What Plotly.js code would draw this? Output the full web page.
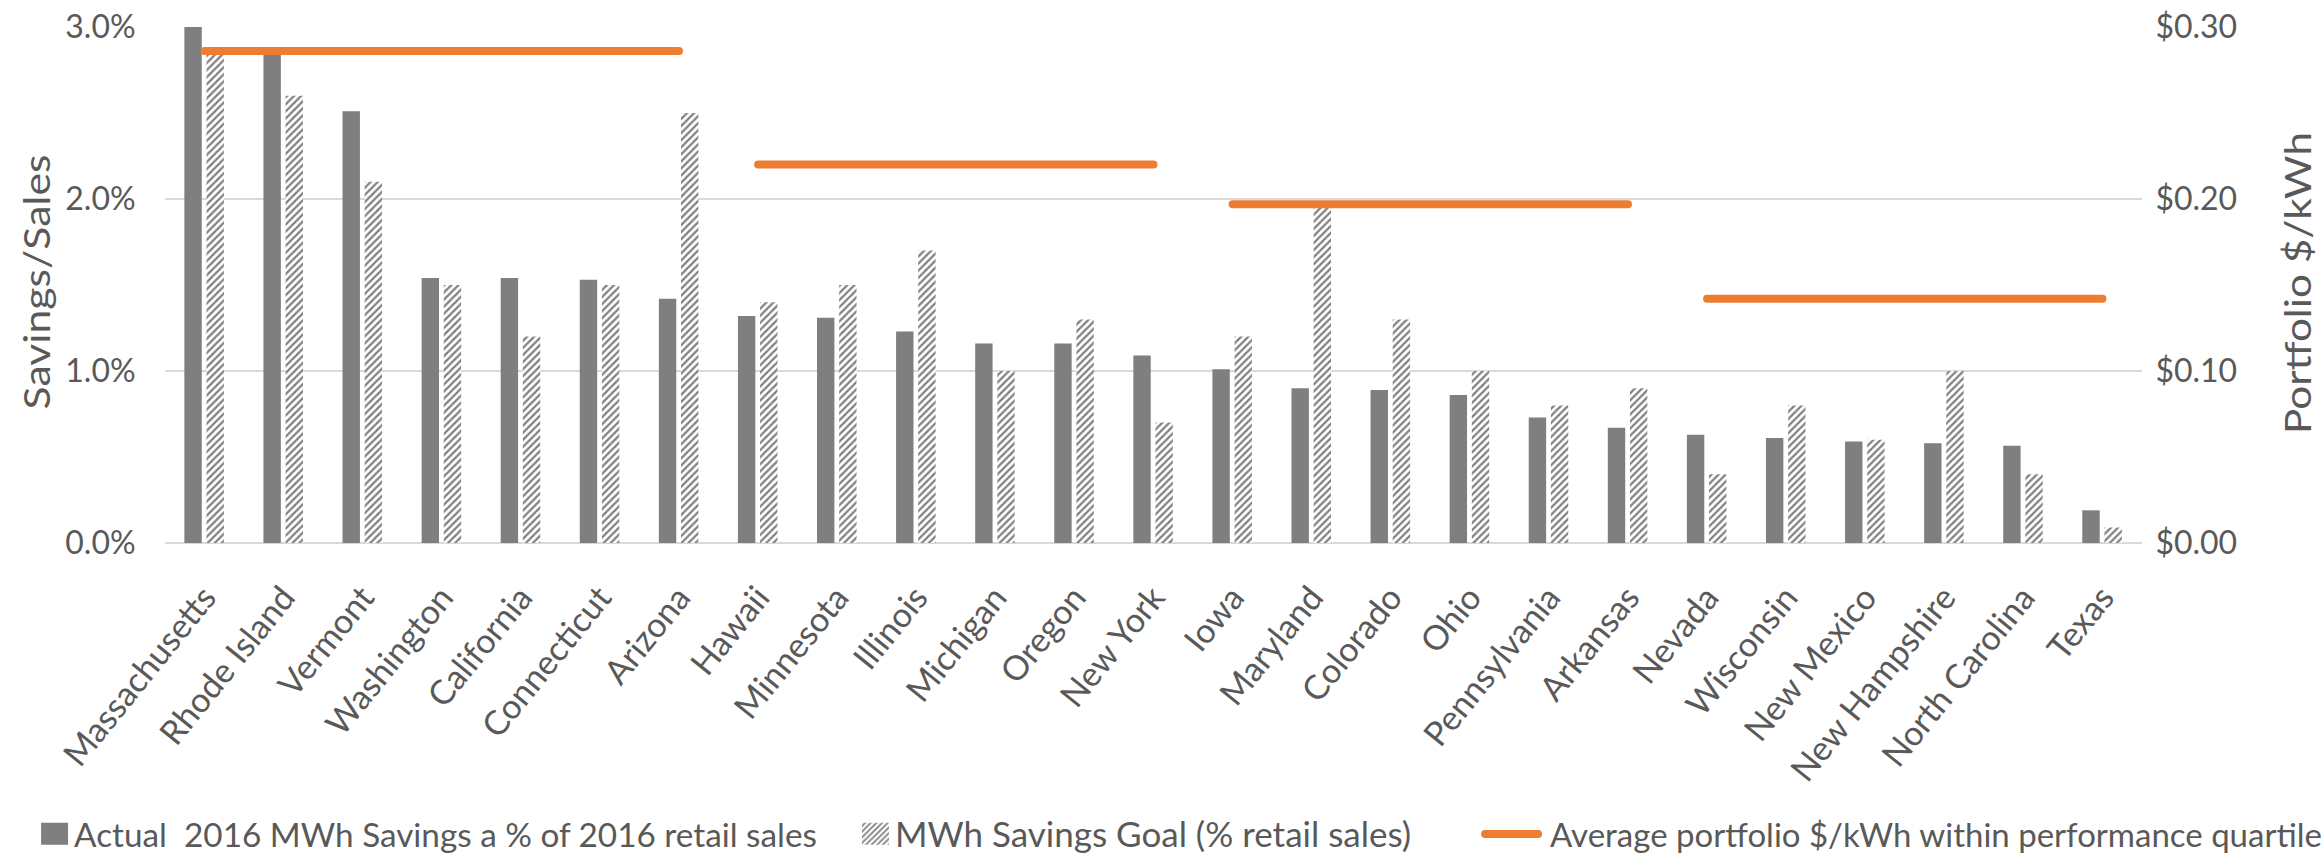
<!DOCTYPE html>
<html>
<head>
<meta charset="utf-8">
<script src="https://cdn.plot.ly/plotly-3.0.1.min.js"></script>
<style>
  html, body { margin: 0; padding: 0; background: #ffffff; }
  #chart { width: 2324px; height: 858px; }
</style>
</head>
<body>
<div id="chart"></div>
<script>
// ---- Data ----
const states = ["Massachusetts", "Rhode Island", "Vermont", "Washington", "California", "Connecticut", "Arizona",
  "Hawaii", "Minnesota", "Illinois", "Michigan", "Oregon", "New York",
  "Iowa", "Maryland", "Colorado", "Ohio", "Pennsylvania", "Arkansas",
  "Nevada", "Wisconsin", "New Mexico", "New Hampshire", "North Carolina", "Texas"];

// Actual 2016 MWh savings as % of 2016 retail sales
const actualPct = [3.00, 2.85, 2.51, 1.54, 1.54, 1.53, 1.42,
  1.32, 1.31, 1.23, 1.16, 1.16, 1.09,
  1.01, 0.90, 0.89, 0.86, 0.73, 0.67,
  0.63, 0.61, 0.59, 0.58, 0.565, 0.19];

// MWh savings goal (% retail sales)
const goalPct = [2.85, 2.60, 2.10, 1.50, 1.20, 1.50, 2.50,
  1.40, 1.50, 1.70, 1.00, 1.30, 0.70,
  1.20, 1.97, 1.30, 1.00, 0.80, 0.90,
  0.40, 0.80, 0.60, 1.00, 0.40, 0.09];

// Average portfolio $/kWh within each performance quartile
const quartileStates = [
  ["Massachusetts", "Rhode Island", "Vermont", "Washington", "California", "Connecticut", "Arizona"],
  ["Hawaii", "Minnesota", "Illinois", "Michigan", "Oregon", "New York"],
  ["Iowa", "Maryland", "Colorado", "Ohio", "Pennsylvania", "Arkansas"],
  ["Nevada", "Wisconsin", "New Mexico", "New Hampshire", "North Carolina", "Texas"]
];
const quartileCost = [0.286, 0.220, 0.197, 0.142];

const yTicks = [0, 1, 2, 3];
const yTickText = ["0.0%", "1.0%", "2.0%", "3.0%"];
const y2Ticks = [0, 0.10, 0.20, 0.30];
const y2TickText = ["$0.00", "$0.10", "$0.20", "$0.30"];

const seriesNames = [
  "Actual  2016 MWh Savings a % of 2016 retail sales",
  "MWh Savings Goal (% retail sales)",
  "Average portfolio $/kWh within performance quartile"
];

// ---- Styling ----
const FONT = "Lato, 'Open Sans', 'Noto Sans', sans-serif";
const TEXT = "#595959";
const BAR = "#7f7f7f";
const ORANGE = "#ED7D31";
const GRID = "#d9d9d9";

const traces = [
  {
    type: "bar", name: seriesNames[0], x: states, y: actualPct,
    width: 0.22, offset: -0.255, legend: "legend",
    marker: { color: BAR, line: { width: 0 } },
    hoverinfo: "skip"
  },
  {
    type: "bar", name: seriesNames[1], x: states, y: goalPct,
    width: 0.22, offset: 0.025, legend: "legend2",
    marker: {
      color: "#ffffff",
      line: { width: 0 },
      pattern: { shape: "/", fgcolor: BAR, bgcolor: "#ffffff", size: 5, solidity: 0.45 }
    },
    hoverinfo: "skip"
  }
];

quartileStates.forEach((grp, i) => {
  traces.push({
    type: "scatter", mode: "lines", name: seriesNames[2],
    x: grp, y: grp.map(() => quartileCost[i]),
    yaxis: "y2", legend: "legend3", legendgroup: "q", showlegend: i === 0,
    line: { color: ORANGE, width: 8 },
    hoverinfo: "skip"
  });
});

const legendBase = {
  orientation: "h", xanchor: "left", y: -0.564, yanchor: "middle",
  itemwidth: 60, bgcolor: "rgba(0,0,0,0)", borderwidth: 0
};

const layout = {
  width: 2324, height: 858,
  paper_bgcolor: "#ffffff", plot_bgcolor: "#ffffff",
  margin: { l: 165, r: 182, t: 27, b: 315, autoexpand: false },
  barmode: "overlay",
  font: { family: FONT, color: TEXT, size: 30 },
  xaxis: {
    type: "category", categoryorder: "array", categoryarray: states,
    tickangle: -51, showgrid: false, zeroline: false, showline: false,
    ticks: "outside", ticklen: 20, tickcolor: "rgba(0,0,0,0)",
    tickfont: { family: FONT, size: 34, color: TEXT },
    automargin: false
  },
  yaxis: {
    range: [0, 3.0], tickmode: "array", tickvals: yTicks, ticktext: yTickText,
    showgrid: true, gridcolor: GRID, gridwidth: 2,
    zeroline: true, zerolinecolor: GRID, zerolinewidth: 2,
    showline: false, ticks: "outside", ticklen: 22, tickcolor: "rgba(0,0,0,0)",
    tickfont: { family: FONT, size: 32, color: TEXT },
    title: { text: "Savings/Sales", font: { family: FONT, size: 36, color: TEXT }, standoff: 10 },
    automargin: false
  },
  yaxis2: {
    range: [0, 0.30], tickmode: "array", tickvals: y2Ticks, ticktext: y2TickText,
    overlaying: "y", side: "right",
    showgrid: false, zeroline: false, showline: false,
    ticks: "outside", ticklen: 6, tickcolor: "rgba(0,0,0,0)",
    tickfont: { family: FONT, size: 32, color: TEXT },
    title: { text: "Portfolio $/kWh", font: { family: FONT, size: 36, color: TEXT }, standoff: 10 },
    automargin: false
  },
  showlegend: true,
  legend: Object.assign({}, legendBase, { x: -0.0814, font: { family: FONT, size: 33.3, color: TEXT } }),
  legend2: Object.assign({}, legendBase, { x: 0.3338, font: { family: FONT, size: 35, color: TEXT } }),
  legend3: Object.assign({}, legendBase, { x: 0.6652, font: { family: FONT, size: 33, color: TEXT } })
};

// place a rotated axis title: stretch along its reading direction to a target length and centre it
function fitTitle(gd, sel, cx, cy, len) {
  const t = gd.querySelector(sel);
  if (!t) return;
  const bb = t.getBBox();
  const x = +t.getAttribute("x"), y = +t.getAttribute("y");
  const s = bb.width > 0 ? len / bb.width : 1;
  t.setAttribute("transform", `rotate(-90,${x},${y}) translate(${x},${y}) scale(${s},1) translate(${-x},${-y})`);
  const r = t.getBoundingClientRect();
  const host = gd.getBoundingClientRect();
  const curx = r.left + r.width / 2 - host.left;
  const cury = r.top + r.height / 2 - host.top;
  t.setAttribute("transform", `translate(${cx - curx},${cy - cury}) ` + t.getAttribute("transform"));
}

Plotly.newPlot("chart", traces, layout, { staticPlot: true, displayModeBar: false }).then(gd => {
  gd.querySelectorAll(".scatterlayer .js-line").forEach(p => { p.style.strokeLinecap = "round"; });
  gd.querySelectorAll(".legendlines path").forEach(p => {
    p.setAttribute("d", "M5,0h53");
    p.style.strokeLinecap = "round";
  });
  gd.querySelectorAll(".legendpoints path").forEach(p => {
    p.setAttribute("d", "M29,11H2V-11H29Z");
  });
  fitTitle(gd, ".ytitle", 36, 282, 255);
  fitTitle(gd, ".y2title", 2297, 283, 302);
});
</script>
</body>
</html>
